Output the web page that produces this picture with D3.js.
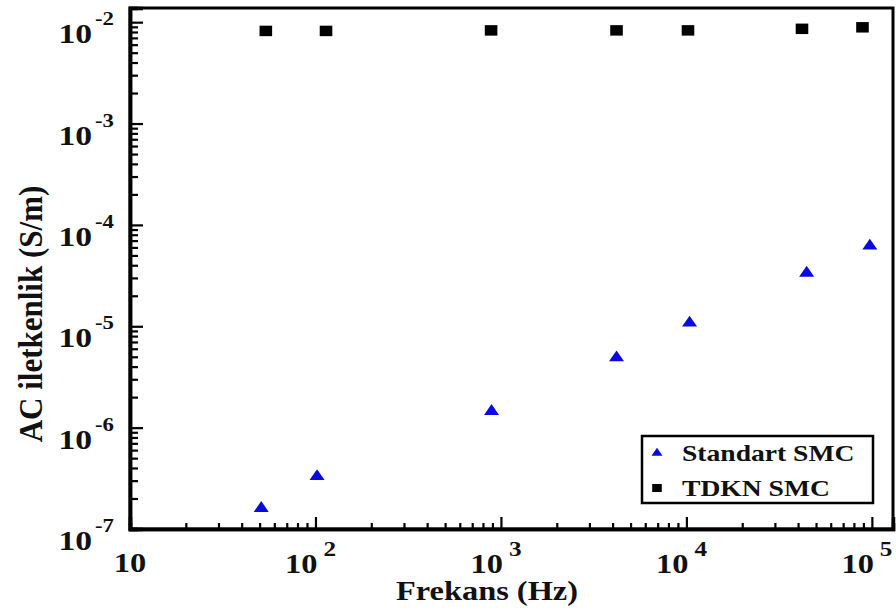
<!DOCTYPE html>
<html>
<head>
<meta charset="utf-8">
<script src="https://cdn.jsdelivr.net/npm/d3@7"></script>
<style>
  html, body { margin: 0; padding: 0; background: #fff; }
  text { font-family: "Liberation Serif", "Times New Roman", Times, serif; font-weight: 700; fill: #111; }
</style>
</head>
<body>
<svg id="chart" width="896" height="612"></svg>
<script>
// frequency (Hz) and AC conductivity (S/m)
const standartFreq = [51, 102, 890, 4200, 10400, 44500, 97500];
const standartCond = [1.6e-7, 3.3e-7, 1.45e-6, 4.9e-6, 1.08e-5, 3.35e-5, 6.2e-5];
const tdknFreq = [54, 114, 885, 4200, 10200, 42000, 89000];
const tdknCond = [8.2e-3, 8.2e-3, 8.3e-3, 8.3e-3, 8.3e-3, 8.6e-3, 8.9e-3];

const xMajor = [10, 100, 1000, 10000, 100000];
const xExp = ["", "2", "3", "4", "5"];
const yMajor = [1e-2, 1e-3, 1e-4, 1e-5, 1e-6, 1e-7];
const yExp = ["-2", "-3", "-4", "-5", "-6", "-7"];

const legendNames = ["Standart SMC", "TDKN SMC"];

const SX = 1.2; // the source picture is stretched sideways

const svg = d3.select("#chart");
const pLeft = 130, pRight = 893, pTop = 8, pBottom = 529;

const x = d3.scaleLog().domain([10, 1.3e5]).range([pLeft, pRight]);
const y = d3.scaleLog().domain([1e-7, 0.0138]).range([pBottom, pTop]);

// minor ticks 2..9 for every decade
const minorX = [];
for (let d = 10; d < 1e5; d *= 10) for (let k = 2; k <= 9; k++) minorX.push(d * k);
const minorY = [];
for (let d = 1e-7; d < 1e-2; d *= 10) for (let k = 2; k <= 9; k++) minorY.push(d * k);

function stxt(g, px, py, str, size, anchor) {
    return g.append("text")
        .attr("transform", `translate(${px},${py}) scale(${SX},1)`)
        .attr("text-anchor", anchor)
        .style("font-size", size + "px")
        .text(str);
}

// frame
svg.append("rect")
    .attr("x", pLeft).attr("y", pTop)
    .attr("width", pRight - pLeft).attr("height", pBottom - pTop)
    .attr("fill", "none").attr("stroke", "#000").attr("stroke-width", 3);

// x axis ticks (inward)
const gx = svg.append("g").attr("transform", `translate(0,${pBottom})`);
gx.call(d3.axisBottom(x).tickValues(xMajor).tickSize(-12).tickFormat(""));
gx.call(g => g.append("g").call(d3.axisBottom(x).tickValues(minorX).tickSize(-6).tickFormat("")));
gx.selectAll(".domain").attr("stroke-width", 3.5);
gx.selectAll(".tick line").attr("stroke", "#000").attr("stroke-width", 2.2);

// y axis ticks (inward)
const gy = svg.append("g").attr("transform", `translate(${pLeft},0)`);
gy.call(d3.axisLeft(y).tickValues(yMajor).tickSize(-13).tickFormat(""));
gy.call(g => g.append("g").call(d3.axisLeft(y).tickValues(minorY).tickSize(-8).tickFormat("")));
gy.selectAll(".domain").attr("stroke-width", 3.5);
gy.selectAll(".tick line").attr("stroke", "#000").attr("stroke-width", 2.2);

// x tick labels
xMajor.forEach((v, i) => {
    const px = x(v);
    if (xExp[i] === "") {
        stxt(svg, px, 572, "10", 27, "middle");
    } else {
        stxt(svg, px + 2, 573, "10", 27, "end");
        stxt(svg, px + 8, 556, xExp[i], 21, "start");
    }
});

// y tick labels
yMajor.forEach((v, i) => {
    const py = y(v);
    stxt(svg, 92, py + 21, "10", 28, "end");
    stxt(svg, 95, py + 3, yExp[i], 19, "start");
});

// axis titles
stxt(svg, 487, 600, "Frekans (Hz)", 27, "middle");
svg.append("text")
    .attr("transform", `translate(42,314) scale(1.1,1) rotate(-90)`)
    .attr("text-anchor", "middle")
    .style("font-size", "31px")
    .text("AC iletkenlik (S/m)");

// data
const tri = d3.symbol(d3.symbolTriangle, 68);
const sq = d3.symbol(d3.symbolSquare, 110);

svg.append("g").selectAll("path")
    .data(d3.zip(standartFreq, standartCond))
    .join("path")
    .attr("d", tri)
    .attr("transform", d => `translate(${x(d[0])},${y(d[1])}) scale(${SX},1)`)
    .attr("fill", "#0a0ae0");

svg.append("g").selectAll("path")
    .data(d3.zip(tdknFreq, tdknCond))
    .join("path")
    .attr("d", sq)
    .attr("transform", d => `translate(${x(d[0])},${y(d[1])}) scale(${SX},1)`)
    .attr("fill", "#000");

// legend
const lg = svg.append("g");
lg.append("rect")
    .attr("x", 642).attr("y", 436).attr("width", 231).attr("height", 67)
    .attr("fill", "#fff").attr("stroke", "#000").attr("stroke-width", 2.5);
const legendRows = [
    { name: legendNames[0], sym: d3.symbol(d3.symbolTriangle, 36), color: "#0a0ae0" },
    { name: legendNames[1], sym: d3.symbol(d3.symbolSquare, 64), color: "#000" },
];
legendRows.forEach((r, i) => {
    const cy = 453 + i * 35;
    lg.append("path")
        .attr("d", r.sym)
        .attr("transform", `translate(657,${cy}) scale(${SX},1)`)
        .attr("fill", r.color);
    stxt(lg, 682, cy + 8, r.name, 23, "start");
});
</script>
</body>
</html>
